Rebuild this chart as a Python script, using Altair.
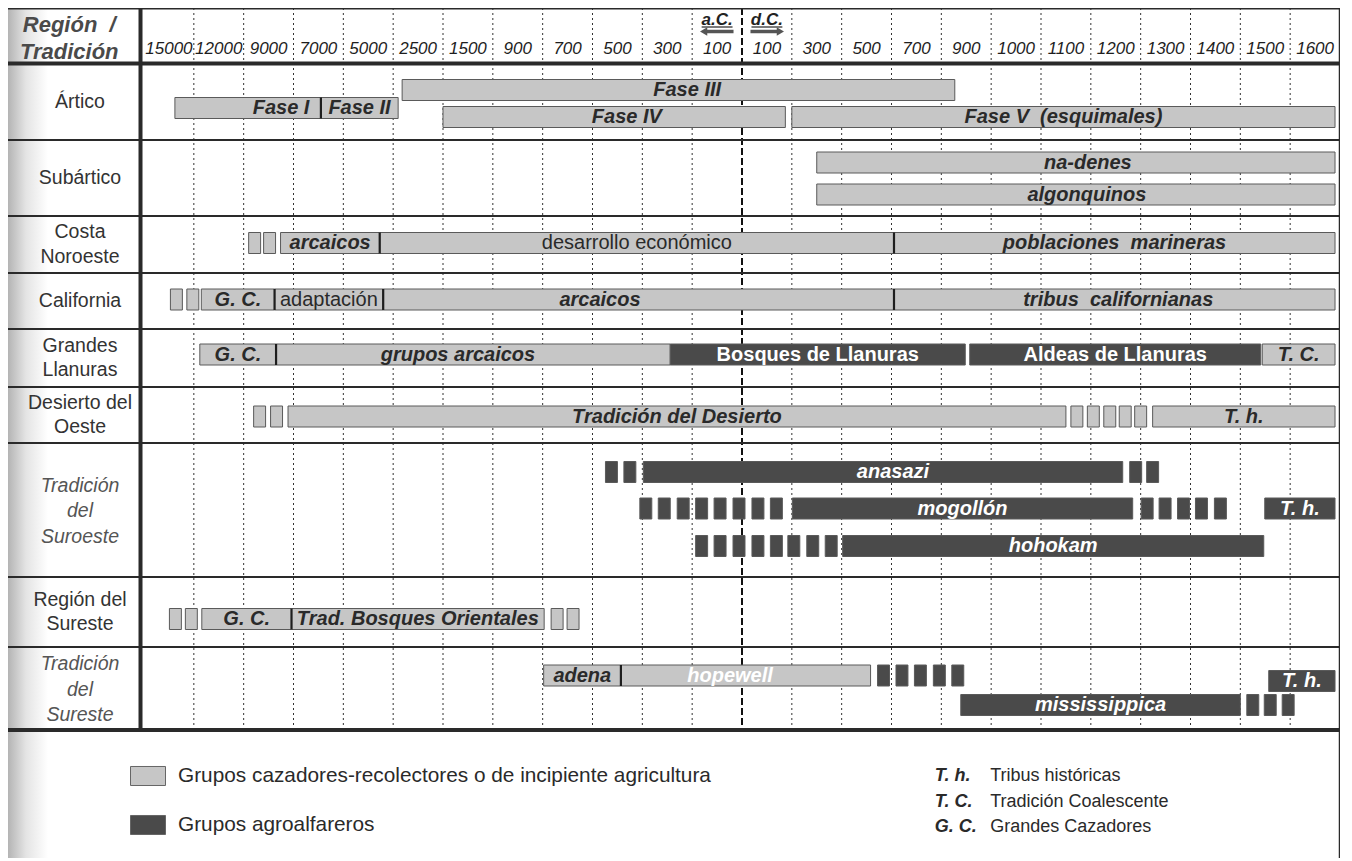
import altair as alt
import pandas as pd

# ------------------------------------------------------------------ data
TICK_LABELS = ["15000", "12000", "9000", "7000", "5000", "2500", "1500", "900",
               "700", "500", "300", "100", "100", "300", "500", "700", "900",
               "1000", "1100", "1200", "1300", "1400", "1500", "1600"]
BC_COLUMNS = 12                      # first 12 columns are a.C.
ERA_LABELS = ["a.C.", "d.C."]

REGIONS = ["Ártico", "Subártico", "Costa\nNoroeste", "California",
           "Grandes\nLlanuras", "Desierto del\nOeste", "Tradición\ndel\nSuroeste",
           "Región del\nSureste", "Tradición\ndel\nSureste"]
ITALIC_REGIONS = ["Tradición\ndel\nSuroeste", "Tradición\ndel\nSureste"]

KIND_NAMES = ["Grupos cazadores-recolectores o de incipiente agricultura",
              "Grupos agroalfareros"]

# bars: lane, start, end (in column units of the time axis), kind (0 light / 1 dark), label
BAR_LANE = ["art_b", "art_b", "art_a", "art_c", "art_c",
            "sub_a", "sub_b",
            "cos", "cos", "cos",
            "cal", "cal", "cal", "cal",
            "gll", "gll", "gll", "gll", "gll",
            "des", "des",
            "suro_a", "suro_b", "suro_b", "suro_c",
            "rse", "rse",
            "tse_a", "tse_a", "tse_th", "tse_b"]
BAR_START = [0.62, 3.55, 5.18, 6.00, 13.00,
             13.50, 13.50,
             2.74, 4.73, 15.05,
             1.15, 2.62, 4.80, 15.05,
             1.12, 2.65, 10.56, 16.57, 22.44,
             2.89, 20.24,
             10.02, 13.01, 22.49, 14.02,
             1.16, 2.96,
             8.02, 9.57, 22.57, 16.39]
BAR_END = [3.55, 5.10, 16.27, 12.87, 23.90,
           23.90, 23.90,
           4.73, 15.05, 23.90,
           2.62, 4.80, 15.05, 23.90,
           2.65, 10.56, 16.48, 22.41, 23.90,
           18.50, 23.90,
           19.64, 19.84, 23.90, 22.47,
           2.96, 8.03,
           9.57, 14.58, 23.90, 22.00]
BAR_KIND = [0, 0, 0, 0, 0,
            0, 0,
            0, 0, 0,
            0, 0, 0, 0,
            0, 0, 1, 1, 0,
            0, 0,
            1, 1, 1, 1,
            0, 0,
            0, 0, 1, 1]
BAR_LABEL = ["Fase I", "Fase II", "Fase III", "Fase IV", "Fase V\u00a0\u00a0(esquimales)",
             "na-denes", "algonquinos",
             "arcaicos", "desarrollo económico", "poblaciones\u00a0\u00a0marineras",
             "G. C.", "adaptación", "arcaicos", "tribus\u00a0\u00a0californianas",
             "G. C.", "grupos arcaicos", "Bosques de Llanuras", "Aldeas de Llanuras", "T. C.",
             "Tradición del Desierto", "T. h.",
             "anasazi", "mogollón", "T. h.", "hohokam",
             "G. C.", "Trad. Bosques Orientales",
             "adena", "hopewell", "T. h.", "mississippica"]

# small interrupted boxes: lane, start, kind
BOX_LANE = (["cos"] * 2 + ["cal"] * 2 + ["des"] * 7 + ["suro_a"] * 4 +
            ["suro_b"] * 13 + ["suro_c"] * 8 + ["rse"] * 4 + ["tse_a"] * 5 + ["tse_b"] * 3)
BOX_START = [2.10, 2.40,
             0.53, 0.86,
             2.20, 2.54, 18.60, 18.93, 19.26, 19.57, 19.88,
             9.26, 9.63, 19.78, 20.12,
             9.95, 10.32, 10.70, 11.07, 11.44, 11.82, 12.20, 12.57,
             20.01, 20.37, 20.74, 21.10, 21.48,
             11.07, 11.44, 11.82, 12.20, 12.57, 12.92, 13.30, 13.67,
             0.51, 0.83, 8.17, 8.49,
             14.72, 15.09, 15.46, 15.84, 16.21,
             22.13, 22.48, 22.84]
BOX_KIND = ([0] * 2 + [0] * 2 + [0] * 7 + [1] * 4 + [1] * 13 + [1] * 8 +
            [0] * 4 + [1] * 5 + [1] * 3)

NOTE_ABBR = ["T. h.", "T. C.", "G. C."]
NOTE_TEXT = ["Tribus históricas", "Tradición Coalescente", "Grandes Cazadores"]

# ------------------------------------------------------------------ layout / style
W, H = 1332, 850
NCOL = len(TICK_LABELS)
PX_COL = (1340 - 144) / NCOL
XMIN = -(144 - 8) / PX_COL
HEADER_H = 55.5
ROW_H = [76.5, 76, 57, 56, 58, 56, 134, 70, 83]
LANE_Y = {"art_a": 82, "art_b": 100, "art_c": 109, "sub_a": 154.5, "sub_b": 186.5,
          "cos": 235, "cal": 291.5, "gll": 346.5, "des": 408.5,
          "suro_a": 464, "suro_b": 500.5, "suro_c": 538, "rse": 611,
          "tse_a": 667.5, "tse_th": 673, "tse_b": 697}
BAR_HALF = 10.5
BOX_W = 0.24
LABEL_AT = {("art_b", "Fase I"): 2.75, ("art_a", "Fase III"): 10.9,
            ("art_c", "Fase IV"): 9.69, ("sub_a", "na-denes"): 18.94,
            ("sub_b", "algonquinos"): 18.92, ("cal", "arcaicos"): 9.15,
            ("cal", "tribus\u00a0\u00a0californianas"): 19.55,
            ("gll", "grupos arcaicos"): 6.3, ("suro_a", "anasazi"): 15.03,
            ("tse_a", "hopewell"): 11.76}
REGULAR_LABELS = ["desarrollo económico", "adaptación"]
UPRIGHT_LABELS = ["Bosques de Llanuras", "Aldeas de Llanuras"]
WHITE_ON_LIGHT = ["hopewell"]

LIGHT, DARK = "#c6c6c6", "#4a4a4a"
INK = "#2a2a2a"
FONT = "Liberation Sans, Arial, Helvetica, sans-serif"
ROW_LH = 24.5
HEAD_LH = 27
ROW_LABEL_X = (80 - 144) / PX_COL

XS = alt.Scale(domain=[XMIN, NCOL], nice=False, zero=False)
YS = alt.Scale(domain=[0, H], reverse=True, nice=False, zero=False)
TABLE_BOTTOM = HEADER_H + sum(ROW_H)

row_tops = [HEADER_H]
for h in ROW_H[:-1]:
    row_tops.append(row_tops[-1] + h)
row_centers = [t + h / 2 for t, h in zip(row_tops, ROW_H)]

# ------------------------------------------------------------------ tables
rect_rows = []
for ln, s, e, k in zip(BAR_LANE, BAR_START, BAR_END, BAR_KIND):
    yc = LANE_Y[ln]
    rect_rows.append(dict(x0=s, x1=e, y0=yc - BAR_HALF, y1=yc + BAR_HALF,
                          kind=KIND_NAMES[k]))
for ln, s, k in zip(BOX_LANE, BOX_START, BOX_KIND):
    yc = LANE_Y[ln]
    rect_rows.append(dict(x0=s, x1=s + BOX_W, y0=yc - BAR_HALF, y1=yc + BAR_HALF,
                          kind=KIND_NAMES[k]))
rects = pd.DataFrame(rect_rows)

# dividers where two light bars meet in the same lane
div_rows = []
for i in range(len(BAR_LANE)):
    for j in range(len(BAR_LANE)):
        if (i != j and BAR_LANE[i] == BAR_LANE[j] and BAR_KIND[i] == 0 and BAR_KIND[j] == 0
                and abs(BAR_END[i] - BAR_START[j]) < 0.01):
            yc = LANE_Y[BAR_LANE[i]]
            div_rows.append(dict(x=BAR_END[i], y0=yc - BAR_HALF, y1=yc + BAR_HALF))
dividers = pd.DataFrame(div_rows)

lab_rows = []
for ln, s, e, k, t in zip(BAR_LANE, BAR_START, BAR_END, BAR_KIND, BAR_LABEL):
    x = LABEL_AT.get((ln, t), (s + e) / 2)
    if t in REGULAR_LABELS:
        style = "reg"
    elif t in UPRIGHT_LABELS:
        style = "bold"
    else:
        style = "bi"
    color = "white" if (k == 1 or t in WHITE_ON_LIGHT) else INK
    lab_rows.append(dict(x=x, y=LANE_Y[ln], text=t, style=style, color=color))
labels = pd.DataFrame(lab_rows)

ticks = pd.DataFrame({"text": TICK_LABELS, "x": [i + 0.5 for i in range(NCOL)]})
ticks["y"] = 41

grid = pd.DataFrame({"pos": list(range(1, NCOL))})
grid["era"] = grid["pos"] == BC_COLUMNS

hlines = pd.DataFrame({"y": row_tops[1:]})
hthick = pd.DataFrame({"y": [HEADER_H, TABLE_BOTTOM]})
htop = pd.DataFrame({"y": [0]})

regions = pd.DataFrame({"text": REGIONS})
regions["y"] = [c - (t.count("\n")) * ROW_LH / 2 for c, t in zip(row_centers, REGIONS)]
regions["x"] = ROW_LABEL_X
regions["it"] = regions["text"].isin(ITALIC_REGIONS)

era = pd.DataFrame({"text": ERA_LABELS, "x": [BC_COLUMNS - 0.5, BC_COLUMNS + 0.5]})
era["y"] = 12
era["u0"] = era["x"] - 0.31
era["u1"] = era["x"] + 0.31
era["uy"] = 19
arrows = pd.DataFrame({"a0": [BC_COLUMNS - 0.5 - 0.22, BC_COLUMNS + 0.5 - 0.33],
                       "a1": [BC_COLUMNS - 0.5 + 0.33, BC_COLUMNS + 0.5 + 0.22],
                       "y": [23.5, 23.5]})
heads = pd.DataFrame({"x": [BC_COLUMNS - 0.5 - 0.27, BC_COLUMNS + 0.5 + 0.27],
                      "y": [23.5, 23.5], "shape": ["triangle-left", "triangle-right"]})

HEADER_TEXT = "Región\u00a0\u00a0/\nTradición"
header = pd.DataFrame({"text": [HEADER_TEXT], "x": [-1.5],
                       "y": [30.5 - HEADER_TEXT.count("\n") * HEAD_LH / 2]})

notes = pd.DataFrame({"abbr": NOTE_ABBR, "desc": NOTE_TEXT})
notes["y"] = [768 + 25.5 * i for i in range(len(NOTE_ABBR))]
notes["xa"] = 15.87
notes["xd"] = 16.98

frame_v = pd.DataFrame({"x": [-0.07], "y0": [0], "y1": [TABLE_BOTTOM]})
frame_r = pd.DataFrame({"x": [NCOL], "y0": [0], "y1": [H]})
shade = pd.DataFrame({"x0": [XMIN], "x1": [XMIN + 40 / PX_COL], "y0": [0], "y1": [H]})


def X(f):
    return alt.X(f, scale=XS, axis=None)


def Y(f):
    return alt.Y(f, scale=YS, axis=None)


# ------------------------------------------------------------------ layers
scan_shade = alt.Chart(shade).mark_rect(
    color=alt.LinearGradient(
        gradient="linear", x1=0, x2=1, y1=0, y2=0,
        stops=[alt.GradientStop(color="#b4b4b4", offset=0),
               alt.GradientStop(color="#e4e4e4", offset=0.45),
               alt.GradientStop(color="#ffffff", offset=1)])).encode(
    x=X("x0:Q"), x2="x1:Q", y=Y("y0:Q"), y2="y1:Q")

grid_reg = alt.Chart(grid).transform_filter("!datum.era").transform_calculate(
    zero="0", bot=str(TABLE_BOTTOM)).mark_rule(
    color="#333", strokeWidth=1, strokeDash=[2, 3]).encode(
    x=X("pos:Q"), y=Y("zero:Q"), y2="bot:Q")

grid_era = alt.Chart(grid).transform_filter("datum.era").transform_calculate(
    zero="0", bot=str(TABLE_BOTTOM)).mark_rule(
    color="#111", strokeWidth=2, strokeDash=[7, 3]).encode(
    x=X("pos:Q"), y=Y("zero:Q"), y2="bot:Q")

tick_txt = alt.Chart(ticks).mark_text(
    font=FONT, fontSize=17, fontStyle="italic", color="#1e1e1e",
    baseline="middle", align="center").encode(x=X("x:Q"), y=Y("y:Q"), text="text:N")

bars = alt.Chart(rects).mark_rect(stroke="#5a5a5a", strokeWidth=1).encode(
    x=X("x0:Q"), x2="x1:Q", y=Y("y0:Q"), y2="y1:Q",
    color=alt.Color("kind:N", scale=alt.Scale(domain=KIND_NAMES, range=[LIGHT, DARK]),
                    legend=alt.Legend(
                        title=None, orient="none", legendX=122, legendY=750,
                        direction="vertical",
                        symbolType="M-1,-0.543L1,-0.543L1,0.543L-1,0.543Z", symbolSize=1225,
                        symbolStrokeColor="#666", symbolStrokeWidth=1, symbolOpacity=1,
                        labelFont=FONT, labelFontSize=20.8, labelColor=INK, labelOffset=12,
                        rowPadding=19, labelLimit=900, padding=0)))

divs = alt.Chart(dividers).mark_rule(color="#1e1e1e", strokeWidth=2.2).encode(
    x=X("x:Q"), y=Y("y0:Q"), y2="y1:Q")

hl_top = alt.Chart(htop).transform_calculate(a=str(XMIN), b=str(NCOL)).mark_rule(
    color="#2a2a2a", strokeWidth=3).encode(x=X("a:Q"), x2="b:Q", y=Y("y:Q"))
hl_thin = alt.Chart(hlines).transform_calculate(a=str(XMIN), b=str(NCOL)).mark_rule(
    color="#2a2a2a", strokeWidth=1.8).encode(x=X("a:Q"), x2="b:Q", y=Y("y:Q"))
hl_thick = alt.Chart(hthick).transform_calculate(a=str(XMIN), b=str(NCOL)).mark_rule(
    color="#2a2a2a", strokeWidth=4).encode(x=X("a:Q"), x2="b:Q", y=Y("y:Q"))
vl_left = alt.Chart(frame_v).mark_rule(color="#2a2a2a", strokeWidth=4).encode(
    x=X("x:Q"), y=Y("y0:Q"), y2="y1:Q")
vl_right = alt.Chart(frame_r).mark_rule(color="#2a2a2a", strokeWidth=2.5).encode(
    x=X("x:Q"), y=Y("y0:Q"), y2="y1:Q")


def bar_text(style, **kw):
    return alt.Chart(labels).transform_filter(f"datum.style == '{style}'").mark_text(
        font=FONT, fontSize=20, baseline="middle", align="center", **kw).encode(
        x=X("x:Q"), y=Y("y:Q"), text="text:N",
        color=alt.Color("color:N", scale=None))


t_bi = bar_text("bi", fontWeight="bold", fontStyle="italic")
t_b = bar_text("bold", fontWeight="bold")
t_r = bar_text("reg")

reg_txt = alt.Chart(regions).transform_filter("!datum.it").mark_text(
    font=FONT, fontSize=19.5, color="#333", lineBreak="\n", lineHeight=ROW_LH,
    baseline="middle").encode(x=X("x:Q"), y=Y("y:Q"), text="text:N")
reg_it = alt.Chart(regions).transform_filter("datum.it").mark_text(
    font=FONT, fontSize=19.5, color="#555", fontStyle="italic", lineBreak="\n",
    lineHeight=ROW_LH + 1, baseline="middle").encode(x=X("x:Q"), y=Y("y:Q"), text="text:N")

head_txt = alt.Chart(header).mark_text(
    font=FONT, fontSize=22, fontWeight="bold", fontStyle="italic", color="#4a4a4a",
    lineBreak="\n", lineHeight=HEAD_LH, baseline="middle").encode(
    x=X("x:Q"), y=Y("y:Q"), text="text:N")

era_txt = alt.Chart(era).mark_text(
    font=FONT, fontSize=17, fontWeight="bold", fontStyle="italic", color="#222",
    baseline="middle").encode(x=X("x:Q"), y=Y("y:Q"), text="text:N")
era_ul = alt.Chart(era).mark_rule(color="#222", strokeWidth=1.2).encode(
    x=X("u0:Q"), x2="u1:Q", y=Y("uy:Q"))
arr = alt.Chart(arrows).mark_rule(color="#555", strokeWidth=3.5).encode(
    x=X("a0:Q"), x2="a1:Q", y=Y("y:Q"))
arr_h = alt.Chart(heads).mark_point(filled=True, color="#555", size=70, opacity=1).encode(
    x=X("x:Q"), y=Y("y:Q"), shape=alt.Shape("shape:N", scale=None))

note_a = alt.Chart(notes).mark_text(
    font=FONT, fontSize=18, fontWeight="bold", fontStyle="italic", color=INK,
    align="left", baseline="middle").encode(x=X("xa:Q"), y=Y("y:Q"), text="abbr:N")
note_d = alt.Chart(notes).mark_text(
    font=FONT, fontSize=18, color=INK, align="left", baseline="middle").encode(
    x=X("xd:Q"), y=Y("y:Q"), text="desc:N")

chart = alt.layer(
    scan_shade, grid_reg, grid_era, bars, divs, hl_top, hl_thin, hl_thick, vl_left,
    vl_right, tick_txt, t_bi, t_b, t_r, reg_txt, reg_it, head_txt, era_txt, era_ul,
    arr, arr_h, note_a, note_d
).properties(width=W, height=H, autosize="none", padding=0).configure_view(
    strokeWidth=0).configure(background="white")

chart.save("out.html", embed_options={"renderer": "svg", "actions": False})
